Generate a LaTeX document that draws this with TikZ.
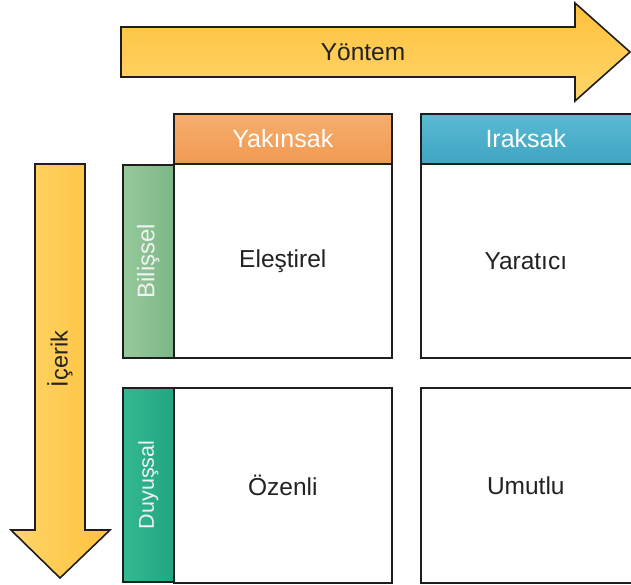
\documentclass[tikz,border=0pt]{standalone}
\usepackage{fontspec}
\setmainfont{Liberation Sans}
\definecolor{arrowA}{HTML}{FFD56A}
\definecolor{arrowB}{HTML}{FFC23C}
\definecolor{orangeA}{HTML}{F6AE6E}
\definecolor{orangeB}{HTML}{F09A52}
\definecolor{blueA}{HTML}{5BBAD4}
\definecolor{blueB}{HTML}{3FA5C2}
\definecolor{greenA}{HTML}{97CA9C}
\definecolor{greenB}{HTML}{7CB686}
\definecolor{tealA}{HTML}{33B992}
\definecolor{tealB}{HTML}{22A582}
\definecolor{edge}{HTML}{1E1E1E}
\definecolor{ink}{HTML}{222222}
\tikzset{
  cell/.style={draw=edge, line width=1.6pt, fill=white, inner sep=0pt, anchor=north west},
  hdr/.style={draw=edge, line width=1.6pt, inner sep=0pt, anchor=north west},
  side/.style={draw=edge, line width=1.6pt, inner sep=0pt, anchor=north west},
  txt/.style={font=\fontsize{24.5}{28}\selectfont, text=ink, inner sep=0pt},
  hdrtxt/.style={font=\fontsize{25}{28}\selectfont, text=white, inner sep=0pt},
  sidetxt/.style={text=white!95!black, inner sep=0pt, rotate=90},
}
\begin{document}
\begin{tikzpicture}[x=1pt,y=-1pt]
\useasboundingbox (0,0) rectangle (631,584);
\clip (0,0) rectangle (631,584);
\fill[white] (0,0) rectangle (631,584);
% top arrow
\path[draw=edge, line width=1.6pt, top color=arrowB, bottom color=arrowA]
  (121,27) -- (575,27) -- (575,3) -- (630,52) -- (575,101) -- (575,77) -- (121,77) -- cycle;
\node[txt] (yontem) at (363,52) {Yöntem};
% left arrow
\path[draw=edge, line width=1.6pt, left color=arrowA, right color=arrowB]
  (35,164) -- (85,164) -- (85,530) -- (110,530) -- (60,578) -- (11,530) -- (35,530) -- cycle;
\node[txt, rotate=90, font=\fontsize{23.5}{27}\selectfont] (icerik) at (60,359) {İçerik};
% headers
\node[hdr, minimum width=218pt, minimum height=50pt, top color=orangeA, bottom color=orangeB] (yak) at (173,113) {};
\node[hdrtxt] (yaktxt) at (yak.center) {Yakınsak};
\node[hdr, minimum width=220pt, minimum height=50pt, top color=blueA, bottom color=blueB] (irak) at (420,113) {};
\node[hdrtxt] (iraktxt) at ([xshift=-5pt]irak.center) {Iraksak};
% side labels
\node[side, minimum width=51pt, minimum height=193pt, left color=greenA, right color=greenB] (bil) at (122,164) {};
\node[sidetxt, font=\fontsize{24}{27}\selectfont] (biltxt) at (bil.center) {Bilişsel};
\node[side, minimum width=51pt, minimum height=194pt, left color=tealA, right color=tealB] (duy) at (122,387) {};
\node[sidetxt, font=\fontsize{21.5}{25}\selectfont] (duytxt) at (duy.center) {Duyuşsal};
% cells
\node[cell, minimum width=218pt, minimum height=194pt] (c11) at (173,163) {};
\node[txt] (t11) at (c11.center) {Eleştirel};
\node[cell, minimum width=220pt, minimum height=194pt] (c12) at (420,163) {};
\node[txt] (t12) at ([xshift=-5pt]c12.center) {Yaratıcı};
\node[cell, minimum width=218pt, minimum height=195pt] (c21) at (173,387) {};
\node[txt] (t21) at (c21.center) {Özenli};
\node[cell, minimum width=220pt, minimum height=195pt] (c22) at (420,387) {};
\node[txt] (t22) at ([xshift=-5pt]c22.center) {Umutlu};
\end{tikzpicture}
\end{document}
